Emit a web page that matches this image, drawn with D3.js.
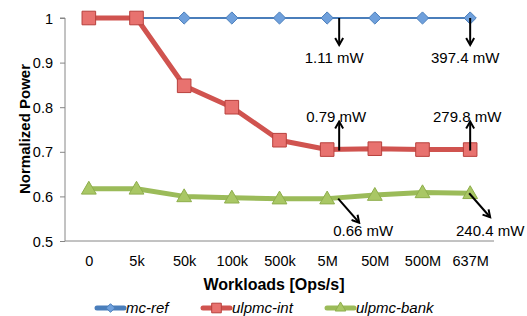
<!DOCTYPE html>
<html>
<head>
<meta charset="utf-8">
<script src="https://cdn.jsdelivr.net/npm/d3@7.9.0/dist/d3.min.js"></script>
<style>
  body { margin: 0; background: #fff; }
  svg text { font-family: "Liberation Sans", Arial, sans-serif; }
</style>
</head>
<body>
<svg id="chart" width="527" height="316"></svg>
<script>
const workloads = ['0', '5k', '50k', '100k', '500k', '5M', '50M', '500M', '637M'];
const mcRef = [1, 1, 1, 1, 1, 1, 1, 1, 1];
const ulpmcInt = [1, 1, 0.848, 0.8, 0.726, 0.705, 0.707, 0.705, 0.705];
const ulpmcBank = [0.617, 0.617, 0.6, 0.597, 0.595, 0.595, 0.603, 0.609, 0.607];
const yTicks = [0.5, 0.6, 0.7, 0.8, 0.9, 1];

// power notes, pinned to a category and a value
const notes = [
  { at: '5M', v: 1, dir: 'down', text: '1.11 mW' },
  { at: '637M', v: 1, dir: 'down', text: '397.4 mW' },
  { at: '5M', v: 0.705, dir: 'up', text: '0.79 mW' },
  { at: '637M', v: 0.705, dir: 'up', text: '279.8 mW' },
  { at: '5M', v: 0.595, dir: 'diag', text: '0.66 mW' },
  { at: '637M', v: 0.607, dir: 'diag', text: '240.4 mW' }
];

const series = [
  { name: 'mc-ref', values: mcRef, line: '#4a7ebb', fill: '#6fa0dc', stroke: '#4a7ebb', width: 2, shape: d3.symbolDiamond2, size: 95 },
  { name: 'ulpmc-int', values: ulpmcInt, line: '#d0534f', fill: '#e8726f', stroke: '#b8403d', width: 5, shape: d3.symbolSquare, size: 185 },
  { name: 'ulpmc-bank', values: ulpmcBank, line: '#9bbb59', fill: '#a9c765', stroke: '#8eae4c', width: 5, shape: d3.symbolTriangle, size: 95 }
];

const svg = d3.select('#chart');
const mLeft = 65, mRight = 494, mTop = 18, mBottom = 241;

const x = d3.scalePoint().domain(workloads).range([mLeft, mRight]).padding(0.5);
const y = d3.scaleLinear().domain([0.5, 1]).range([mBottom, mTop]);

// axes
const yAxis = svg.append('g').attr('transform', `translate(${mLeft},0)`)
  .call(d3.axisLeft(y).tickValues(yTicks).tickSize(5).tickPadding(7).tickFormat(d3.format('')));
yAxis.attr('font-family', null).attr('font-size', 14.5);
yAxis.select('.domain').attr('stroke', '#868686').attr('d', `M-5,${mTop}H0V${mBottom}`);
yAxis.selectAll('.tick line').attr('stroke', '#868686');
yAxis.selectAll('.tick text').attr('fill', '#000').attr('dy', '0.35em');

const xAxis = svg.append('g').attr('transform', `translate(0,${mBottom})`)
  .call(d3.axisBottom(x).tickSize(0).tickPadding(15));
xAxis.attr('font-family', null).attr('font-size', 14.5);
xAxis.select('.domain').attr('stroke', '#868686').attr('d', `M${mLeft},0H${mRight}`);
xAxis.selectAll('.tick text').attr('fill', '#000');

svg.append('text').attr('x', 274).attr('y', 290).attr('text-anchor', 'middle')
  .attr('font-size', 16).attr('font-weight', 'bold').text('Workloads [Ops/s]');
svg.append('text').attr('transform', 'translate(30,129) rotate(-90)').attr('text-anchor', 'middle')
  .attr('font-size', 15).attr('font-weight', 'bold').text('Normalized Power');

// lines and markers
const line = d3.line().x((d, i) => x(workloads[i])).y(d => y(d));
series.forEach(s => {
  svg.append('path').attr('d', line(s.values)).attr('fill', 'none')
    .attr('stroke', s.line).attr('stroke-width', s.width).attr('stroke-linejoin', 'round');
  svg.append('g').selectAll('path').data(s.values).join('path')
    .attr('transform', (d, i) => `translate(${x(workloads[i])},${y(d) + (s.shape === d3.symbolTriangle ? 1 : 0)})`)
    .attr('d', d3.symbol(s.shape, s.size))
    .attr('fill', s.fill).attr('stroke', s.stroke).attr('stroke-width', 1);
});

// arrows
svg.append('defs').append('marker').attr('id', 'head')
  .attr('viewBox', '0 0 10 10').attr('refX', 8).attr('refY', 5)
  .attr('markerWidth', 5).attr('markerHeight', 5).attr('orient', 'auto')
  .append('path').attr('d', 'M1,1L8,5L1,9').attr('fill', 'none').attr('stroke', '#000').attr('stroke-width', 2);

notes.forEach(n => {
  const cx = x(n.at) + (n.at === '5M' ? 12 : 0), cy = y(n.v);
  let x1 = cx, y1 = cy, x2, y2, tx, ty;
  if (n.dir === 'down') { x2 = cx; y2 = cy + 27; tx = cx - 5; ty = cy + 45; }
  else if (n.dir === 'up') { y1 = cy + 1; x2 = cx; y2 = cy - 28; tx = cx - 3; ty = cy - 28; }
  else { x1 = cx - 1; x2 = cx + 20; y2 = cy + 24; tx = cx + (n.at === '637M' ? 20 : 24); ty = 236; }
  svg.append('line').attr('x1', x1).attr('y1', y1).attr('x2', x2).attr('y2', y2)
    .attr('stroke', '#000').attr('stroke-width', 2).attr('marker-end', 'url(#head)');
  svg.append('text').attr('x', tx).attr('y', ty).attr('text-anchor', 'middle')
    .attr('font-size', 15).text(n.text);
});

// legend
const legendX = [97, 203, 327];
series.forEach((s, i) => {
  const g = svg.append('g').attr('transform', `translate(${legendX[i]},308)`);
  g.append('line').attr('x1', 0).attr('x2', 27).attr('stroke', s.line).attr('stroke-width', 5).attr('stroke-linecap', 'round');
  g.append('path').attr('transform', 'translate(13.5,0)').attr('d', d3.symbol(s.shape, s.size * 0.5))
    .attr('fill', s.fill).attr('stroke', s.stroke).attr('stroke-width', 1);
  g.append('text').attr('x', 29).attr('y', 5).attr('font-size', 15).attr('font-style', 'italic').text(s.name);
});
</script>
</body>
</html>
